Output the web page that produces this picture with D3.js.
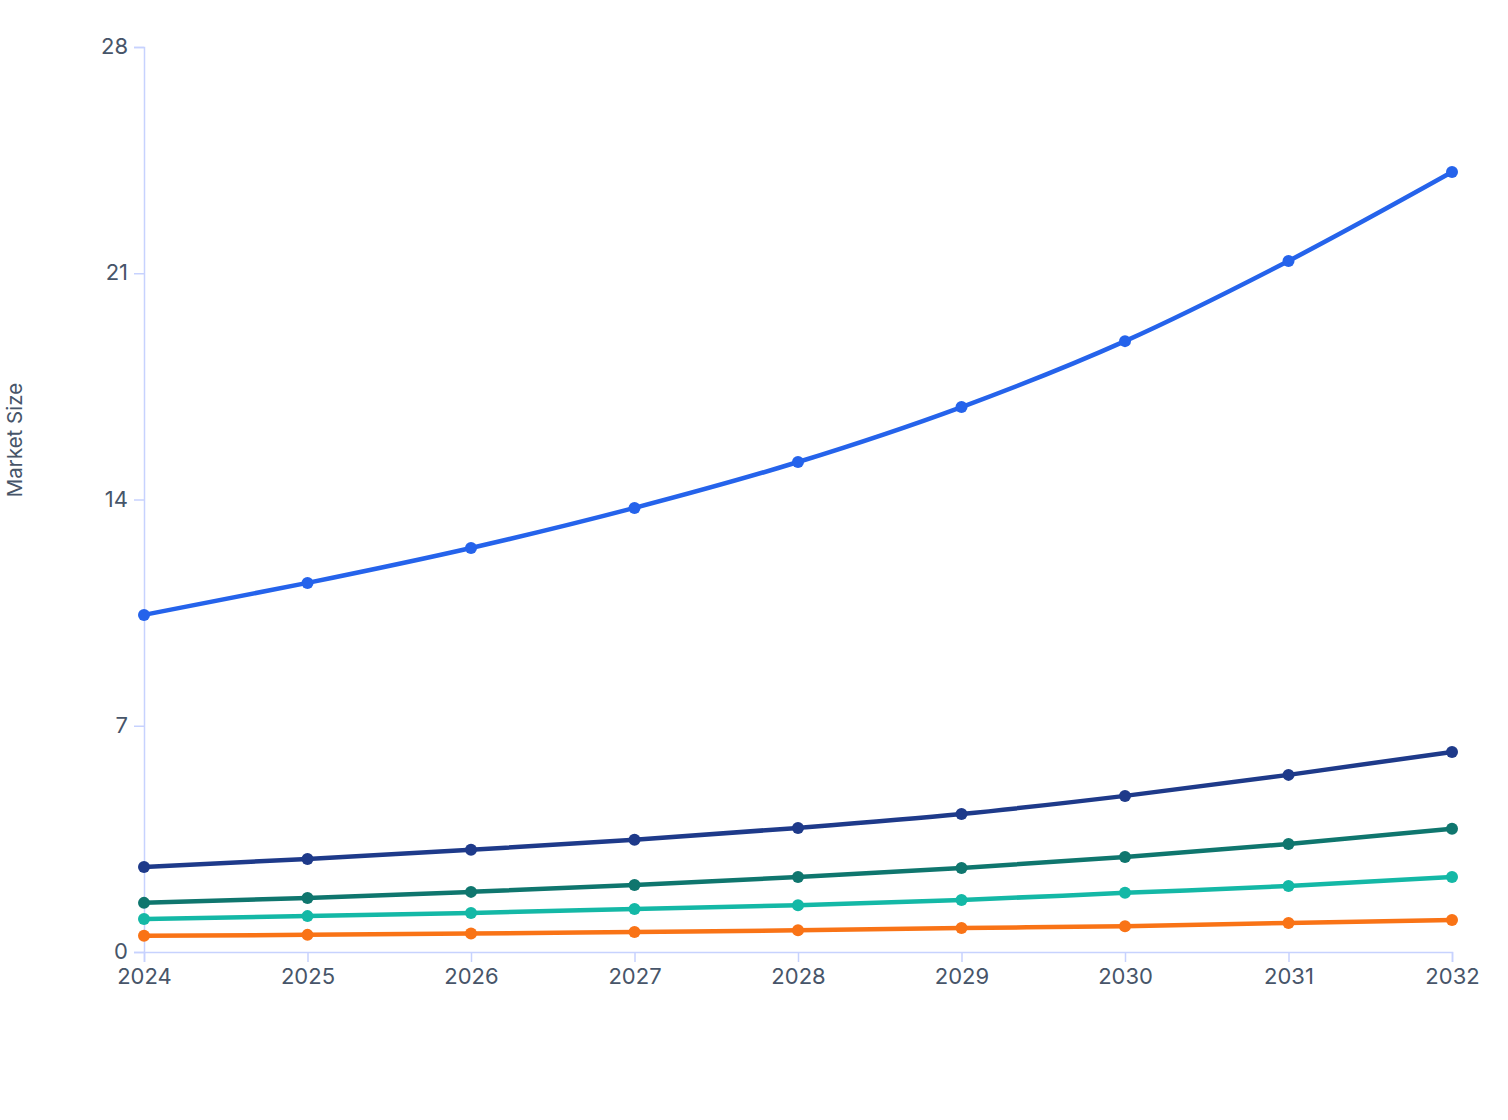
<!DOCTYPE html>
<html><head><meta charset="utf-8">
<script src="https://cdn.jsdelivr.net/npm/d3@7/dist/d3.min.js"></script>
<style>
body{margin:0;background:#fff;}
svg text{font-family:Inter,"Liberation Sans",Arial,sans-serif;}
</style></head>
<body><svg id="c" width="1508" height="1120"></svg>
<script>
const years = [2024,2025,2026,2027,2028,2029,2030,2031,2032];
const seriesA = [10.43,11.42,12.5,13.74,15.16,16.86,18.9,21.38,24.13];
const seriesB = [2.63,2.88,3.16,3.47,3.84,4.27,4.83,5.48,6.19];
const seriesC = [1.52,1.67,1.86,2.07,2.32,2.6,2.94,3.34,3.81];
const seriesD = [1.02,1.11,1.21,1.33,1.45,1.61,1.83,2.04,2.32];
const seriesE = [0.5,0.53,0.57,0.62,0.67,0.74,0.8,0.9,0.99];
const yTicks = [0,7,14,21,28];
const yLabel = "Market Size";

const series = [
  {v:seriesA,c:"#2563eb"},
  {v:seriesB,c:"#1e3a8a"},
  {v:seriesC,c:"#0f766e"},
  {v:seriesD,c:"#14b8a6"},
  {v:seriesE,c:"#f97316"}
];
const svg = d3.select("#c");
const x = d3.scalePoint().domain(years).range([144,1452]);
const y = d3.scaleLinear().domain([0,28]).range([952,47]);
const axisCol = "#c7d2fe", textCol = "#475569";

const gx = svg.append("g").attr("transform","translate(0,952)")
  .call(d3.axisBottom(x).tickSize(10).tickPadding(6));
const gy = svg.append("g").attr("transform","translate(144,0)")
  .call(d3.axisLeft(y).tickValues(yTicks).tickSize(10).tickPadding(6));
[gx,gy].forEach(g=>{
  g.selectAll("path,line").attr("stroke",axisCol).attr("stroke-width",1.5);
  g.selectAll("text").attr("fill",textCol).style("font-size","22px");
});
gy.selectAll("text").attr("dy","0.3em");

svg.append("text").attr("transform","translate(22,440) rotate(-90)")
  .attr("text-anchor","middle").attr("fill",textCol).style("font-size","20.5px").text(yLabel);

const line = d3.line().x((d,i)=>x(years[i])).y(d=>y(d)).curve(d3.curveMonotoneX);
series.slice().reverse().forEach(s=>{
  svg.append("path").datum(s.v).attr("d",line).attr("fill","none")
    .attr("stroke",s.c).attr("stroke-width",4.5);
  svg.append("g").selectAll("circle").data(s.v).join("circle")
    .attr("cx",(d,i)=>x(years[i])).attr("cy",d=>y(d)).attr("r",6).attr("fill",s.c);
});
</script></body></html>
